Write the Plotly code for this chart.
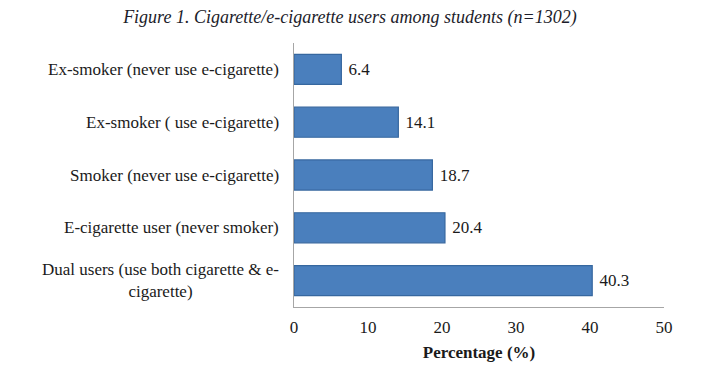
import plotly.graph_objects as go

categories = [
    "Dual users (use both cigarette & e-<br>cigarette)",
    "E-cigarette user (never smoker)",
    "Smoker (never use e-cigarette)",
    "Ex-smoker ( use e-cigarette)",
    "Ex-smoker (never use e-cigarette)",
]
values = [40.3, 20.4, 18.7, 14.1, 6.4]
x_ticks = [0, 10, 20, 30, 40, 50]

serif = "Liberation Serif, Times New Roman, serif"

fig = go.Figure()
fig.add_trace(go.Bar(
    y=list(range(len(categories))),
    x=values,
    orientation="h",
    width=0.57,
    marker=dict(color="#4a7fbd", line=dict(color="#36679f", width=1.2)),
    text=[f"{v:.1f}" for v in values],
    texttemplate=" %{text}",
    textposition="outside",
    textfont=dict(family=serif, size=17, color="#1a1a1a"),
    cliponaxis=False,
    hoverinfo="skip",
))

for i, c in enumerate(categories):
    fig.add_annotation(
        x=0, y=i, xref="x", yref="y",
        text=c, showarrow=False,
        xanchor="right", yanchor="middle", align="center",
        xshift=-13,
        font=dict(family=serif, size=17, color="#1a1a1a"),
    )

fig.update_layout(
    width=720, height=373,
    margin=dict(l=294, r=56, t=43, b=66),
    paper_bgcolor="white",
    plot_bgcolor="white",
    showlegend=False,
    title=dict(
        text="<i>Figure 1. Cigarette/e-cigarette users among students (n=1302)</i>",
        x=0.486, xanchor="center", y=0.955, yanchor="middle",
        font=dict(family=serif, size=18, color="#1c1c2a"),
    ),
    xaxis=dict(
        range=[0, 50],
        tickvals=x_ticks,
        ticktext=[str(t) for t in x_ticks],
        showgrid=False,
        zeroline=False,
        showline=True,
        linecolor="#a6a6a6",
        linewidth=1,
        ticks="",
        ticklabelstandoff=5,
        tickfont=dict(family=serif, size=17, color="#1a1a1a"),
        title=dict(text="<b>Percentage (%)</b>", standoff=9,
                   font=dict(family=serif, size=17, color="#1a1a1a")),
    ),
    yaxis=dict(
        range=[-0.5, 4.5],
        showticklabels=False,
        showgrid=False,
        zeroline=False,
        showline=True,
        linecolor="#a6a6a6",
        linewidth=1,
        ticks="",
    ),
)

fig.write_html("out.html")
